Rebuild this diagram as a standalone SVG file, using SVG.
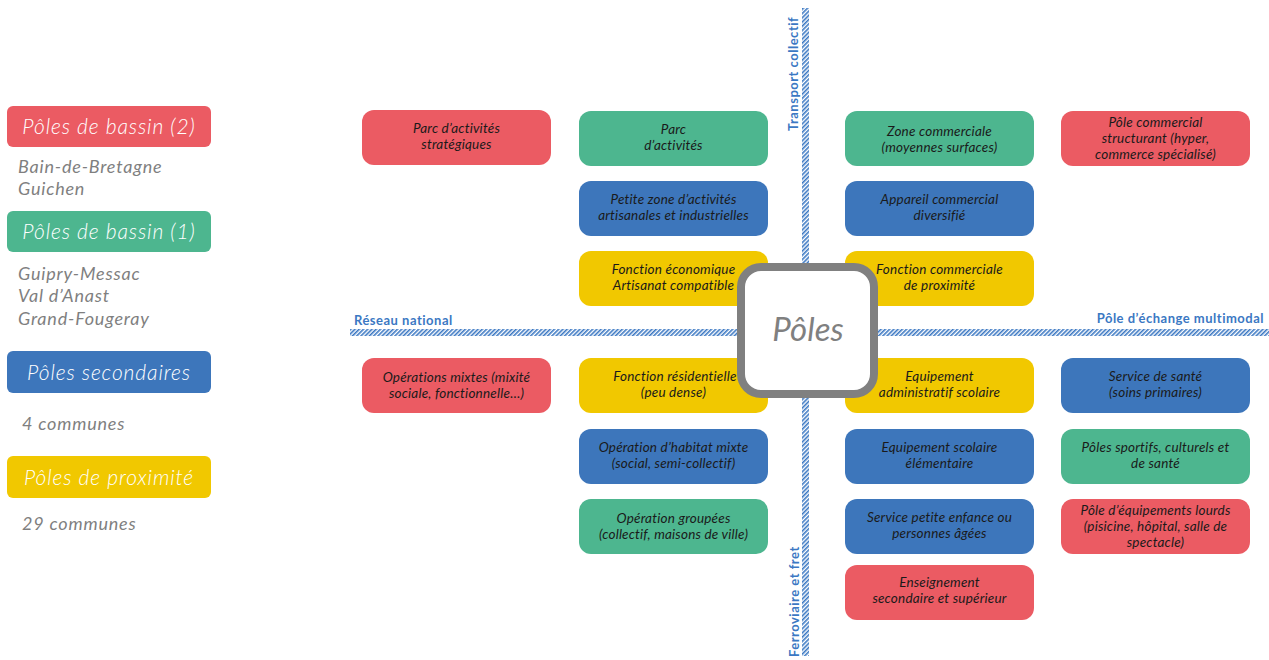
<svg xmlns="http://www.w3.org/2000/svg" width="1269" height="660" viewBox="0 0 1269 660">
<style>
.n{font-family:"Lato","Open Sans",sans-serif;font-style:italic;font-size:13.5px;letter-spacing:0.2px;fill:#1a1a1a;text-anchor:middle}
.lt{font-family:"Lato","Open Sans",sans-serif;font-style:italic;font-weight:300;font-size:21px;letter-spacing:0.9px;fill:#fff;text-anchor:middle}
.ls{font-family:"Lato","Open Sans",sans-serif;font-style:italic;font-size:18px;letter-spacing:0.8px;fill:#7f7f7f}
.ax{font-family:"Lato","Open Sans",sans-serif;font-weight:bold;font-size:13px;letter-spacing:0.5px;fill:#3b78c3}
.red{fill:#eb5b63}.grn{fill:#4db68f}.blu{fill:#3d76bb}.yel{fill:#f1c800}
</style>
<defs>
<pattern id="hatch" patternUnits="userSpaceOnUse" width="3" height="3" patternTransform="rotate(45)">
<rect width="3" height="3" fill="#ffffff"/>
<rect width="1.6" height="3" fill="#3b78c3"/>
</pattern>
</defs>
<g id="legend">
<g id="leg-bassin2"><rect class="red" x="7" y="106" width="204" height="41" rx="6"/><text class="lt" x="109" y="134">Pôles de bassin (2)</text></g>
<text class="ls" x="18" y="173">Bain-de-Bretagne</text>
<text class="ls" x="18" y="195">Guichen</text>
<g id="leg-bassin1"><rect class="grn" x="7" y="211" width="204" height="41" rx="6"/><text class="lt" x="109" y="239">Pôles de bassin (1)</text></g>
<text class="ls" x="18" y="280">Guipry-Messac</text>
<text class="ls" x="18" y="302">Val d’Anast</text>
<text class="ls" x="18" y="325">Grand-Fougeray</text>
<g id="leg-secondaires"><rect class="blu" x="7" y="351" width="204" height="42" rx="6"/><text class="lt" x="109" y="380">Pôles secondaires</text></g>
<text class="ls" x="22" y="430">4 communes</text>
<g id="leg-proximite"><rect class="yel" x="7" y="456" width="204" height="42" rx="6"/><text class="lt" x="109" y="485">Pôles de proximité</text></g>
<text class="ls" x="22" y="530">29 communes</text>
</g>
<g id="connectors">
<rect x="802" y="8" width="7" height="648" fill="url(#hatch)"/>
<rect x="350" y="329" width="919" height="7" fill="url(#hatch)"/>
<text class="ax" x="354" y="325">Réseau national</text>
<text class="ax" x="1264" y="323" text-anchor="end">Pôle d’échange multimodal</text>
<text class="ax" transform="translate(798,131) rotate(-90)">Transport collectif</text>
<text class="ax" transform="translate(799,657) rotate(-90)">Ferroviaire et fret</text>
</g>
<g id="n1"><rect class="red" x="362" y="110" width="189" height="55" rx="12"/><text class="n" x="456.5" y="133">Parc d’activités</text><text class="n" x="456.5" y="149">stratégiques</text></g>
<g id="n2"><rect class="grn" x="579" y="111" width="189" height="55" rx="12"/><text class="n" x="673.5" y="134">Parc</text><text class="n" x="673.5" y="150">d’activités</text></g>
<g id="n3"><rect class="grn" x="845" y="111" width="189" height="55" rx="12"/><text class="n" x="939.5" y="136">Zone commerciale</text><text class="n" x="939.5" y="152">(moyennes surfaces)</text></g>
<g id="n4"><rect class="red" x="1061" y="111" width="189" height="55" rx="12"/><text class="n" x="1155.5" y="127">Pôle commercial</text><text class="n" x="1155.5" y="143">structurant (hyper,</text><text class="n" x="1155.5" y="159">commerce spécialisé)</text></g>
<g id="n5"><rect class="blu" x="579" y="181" width="189" height="55" rx="12"/><text class="n" x="673.5" y="204">Petite zone d’activités</text><text class="n" x="673.5" y="220">artisanales et industrielles</text></g>
<g id="n6"><rect class="blu" x="845" y="181" width="189" height="55" rx="12"/><text class="n" x="939.5" y="204">Appareil commercial</text><text class="n" x="939.5" y="220">diversifié</text></g>
<g id="n7"><rect class="yel" x="579" y="251" width="189" height="55" rx="12"/><text class="n" x="673.5" y="274">Fonction économique</text><text class="n" x="673.5" y="290">Artisanat compatible</text></g>
<g id="n8"><rect class="yel" x="845" y="251" width="189" height="55" rx="12"/><text class="n" x="939.5" y="274">Fonction commerciale</text><text class="n" x="939.5" y="290">de proximité</text></g>
<g id="n9"><rect class="red" x="362" y="358" width="189" height="55" rx="12"/><text class="n" x="456.5" y="382">Opérations mixtes (mixité</text><text class="n" x="456.5" y="398">sociale, fonctionnelle…)</text></g>
<g id="n10"><rect class="yel" x="579" y="358" width="189" height="55" rx="12"/><text class="n" x="675" y="381">Fonction résidentielle</text><text class="n" x="673.5" y="397">(peu dense)</text></g>
<g id="n11"><rect class="yel" x="845" y="358" width="189" height="55" rx="12"/><text class="n" x="939.5" y="381">Equipement</text><text class="n" x="939.5" y="397">administratif scolaire</text></g>
<g id="n12"><rect class="blu" x="1061" y="358" width="189" height="55" rx="12"/><text class="n" x="1155.5" y="381">Service de santé</text><text class="n" x="1155.5" y="397">(soins primaires)</text></g>
<g id="n13"><rect class="blu" x="579" y="429" width="189" height="55" rx="12"/><text class="n" x="673.5" y="452">Opération d’habitat mixte</text><text class="n" x="673.5" y="468">(social, semi-collectif)</text></g>
<g id="n14"><rect class="blu" x="845" y="429" width="189" height="55" rx="12"/><text class="n" x="939.5" y="452">Equipement scolaire</text><text class="n" x="939.5" y="468">élémentaire</text></g>
<g id="n15"><rect class="grn" x="1061" y="429" width="189" height="55" rx="12"/><text class="n" x="1155.5" y="452">Pôles sportifs, culturels et</text><text class="n" x="1155.5" y="468">de santé</text></g>
<g id="n16"><rect class="grn" x="579" y="499" width="189" height="55" rx="12"/><text class="n" x="673.5" y="523">Opération groupées</text><text class="n" x="673.5" y="539">(collectif, maisons de ville)</text></g>
<g id="n17"><rect class="blu" x="845" y="499" width="189" height="55" rx="12"/><text class="n" x="939.5" y="522">Service petite enfance ou</text><text class="n" x="939.5" y="538">personnes âgées</text></g>
<g id="n18"><rect class="red" x="1061" y="499" width="189" height="55" rx="12"/><text class="n" x="1155.5" y="515">Pôle d’équipements lourds</text><text class="n" x="1155.5" y="531">(pisicine, hôpital, salle de</text><text class="n" x="1155.5" y="547">spectacle)</text></g>
<g id="n19"><rect class="red" x="845" y="565" width="189" height="55" rx="12"/><text class="n" x="939.5" y="587">Enseignement</text><text class="n" x="939.5" y="603">secondaire et supérieur</text></g>
<g id="center"><rect x="741" y="267" width="133" height="127" rx="20" fill="#ffffff" stroke="#808080" stroke-width="8"/><text x="808" y="341" font-family="Lato,'Open Sans',sans-serif" font-style="italic" font-size="33" fill="#808080" text-anchor="middle">Pôles</text></g>
</svg>
